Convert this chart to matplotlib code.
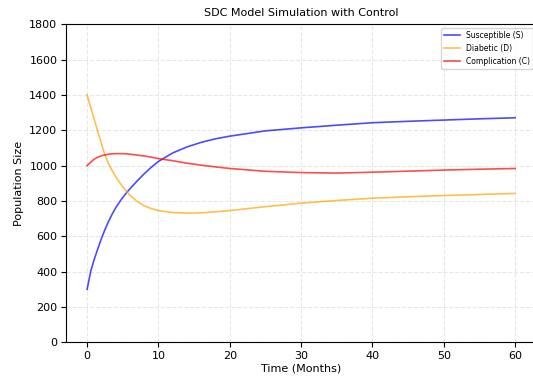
import matplotlib
matplotlib.use("Agg")
import matplotlib.pyplot as plt

time_months = [0, 0.5, 1, 1.5, 2, 2.5, 3, 3.5, 4, 4.5, 5, 5.5, 6, 7, 8, 9, 10, 12, 14, 16, 18,
               20, 25, 30, 35, 40, 45, 50, 55, 60]
susceptible = [300, 402, 470, 530, 587, 638, 684, 725, 761, 792, 820, 846, 869, 913, 954, 991,
               1024, 1072, 1106, 1132, 1152, 1167, 1197, 1214, 1229, 1243, 1251, 1258, 1265, 1271]
diabetic = [1400, 1330, 1262, 1192, 1124, 1062, 1012, 973, 939, 908, 880, 855, 833, 798, 773,
            757, 746, 735, 731, 733, 739, 746, 768, 788, 803, 816, 824, 831, 837, 843]
complication = [1000, 1020, 1037, 1048, 1056, 1061, 1065, 1067, 1068, 1068, 1068, 1067, 1065,
                1060, 1055, 1048, 1040, 1028, 1014, 1003, 993, 984, 968, 961, 958, 963, 969,
                975, 980, 984]

series_labels = ["Susceptible (S)", "Diabetic (D)", "Complication (C)"]
title = "SDC Model Simulation with Control"
xlabel = "Time (Months)"
ylabel = "Population Size"

fig = plt.figure(figsize=(5.33, 3.76), dpi=100)
ax = fig.add_axes([0.1233, 0.0894, 0.8833, 0.846])

ax.plot(time_months, susceptible, color="blue", alpha=0.7, lw=1.2, label=series_labels[0])
ax.plot(time_months, diabetic, color="orange", alpha=0.7, lw=1.2, label=series_labels[1])
ax.plot(time_months, complication, color="red", alpha=0.7, lw=1.2, label=series_labels[2])

ax.set_xlim(-3, 63)
ax.set_ylim(0, 1800)
ax.set_yticks(range(0, 1801, 200))
ax.set_xticks(range(0, 61, 10))
ax.tick_params(labelsize=8, pad=2.5)
ax.set_title(title, fontsize=8)
ax.set_xlabel(xlabel, fontsize=8, labelpad=2)
ax.set_ylabel(ylabel, fontsize=8)
ax.grid(True, linestyle="--", alpha=0.3)
ax.legend(loc="upper right", fontsize=5.5)

fig.savefig("out.png", dpi=100)
